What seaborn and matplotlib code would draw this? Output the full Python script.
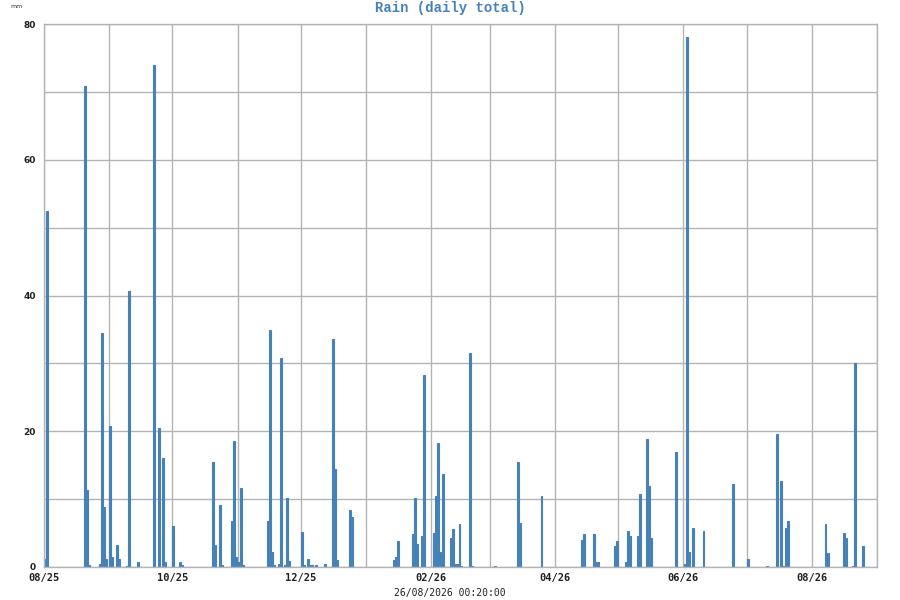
import matplotlib
matplotlib.use("Agg")
import matplotlib.pyplot as plt
import seaborn as sns
import pandas as pd

# daily rain totals (mm), only days with rain
rain_dates = [
    "2025-08-01", "2025-08-02", "2025-08-20", "2025-08-21", "2025-08-22",
    "2025-08-27", "2025-08-28", "2025-08-29", "2025-08-30", "2025-09-01",
    "2025-09-02", "2025-09-04", "2025-09-05", "2025-09-09", "2025-09-10",
    "2025-09-14", "2025-09-22", "2025-09-24", "2025-09-26", "2025-09-27",
    "2025-10-01", "2025-10-04", "2025-10-05", "2025-10-20", "2025-10-21",
    "2025-10-23", "2025-10-24", "2025-10-29", "2025-10-30", "2025-10-31",
    "2025-11-01", "2025-11-02", "2025-11-03", "2025-11-15", "2025-11-16",
    "2025-11-17", "2025-11-18", "2025-11-20", "2025-11-21", "2025-11-23",
    "2025-11-24", "2025-11-25", "2025-12-01", "2025-12-02", "2025-12-04",
    "2025-12-05", "2025-12-06", "2025-12-08", "2025-12-12", "2025-12-16",
    "2025-12-17", "2025-12-18", "2025-12-24", "2025-12-25", "2026-01-14",
    "2026-01-15", "2026-01-16", "2026-01-23", "2026-01-24", "2026-01-25",
    "2026-01-27", "2026-01-28", "2026-02-02", "2026-02-03", "2026-02-04",
    "2026-02-05", "2026-02-06", "2026-02-10", "2026-02-11", "2026-02-12",
    "2026-02-13", "2026-02-14", "2026-02-15", "2026-02-19", "2026-02-20",
    "2026-03-03", "2026-03-14", "2026-03-15", "2026-03-25", "2026-04-13",
    "2026-04-14", "2026-04-19", "2026-04-20", "2026-04-21", "2026-04-29",
    "2026-04-30", "2026-05-04", "2026-05-05", "2026-05-06", "2026-05-10",
    "2026-05-11", "2026-05-14", "2026-05-15", "2026-05-16", "2026-05-28",
    "2026-06-01", "2026-06-02", "2026-06-03", "2026-06-05", "2026-06-10",
    "2026-06-24", "2026-07-01", "2026-07-10", "2026-07-15", "2026-07-17",
    "2026-07-18", "2026-07-19", "2026-07-20", "2026-08-07", "2026-08-08",
    "2026-08-16", "2026-08-17", "2026-08-20", "2026-08-21", "2026-08-25",
]
rain_mm = [
    1.2, 52.5, 70.8, 11.4, 0.25,
    0.4, 34.5, 8.9, 1.2, 20.8,
    1.5, 3.3, 1.2, 0.2, 40.6,
    0.7, 73.9, 20.5, 16.0, 0.7,
    6.1, 0.7, 0.3, 15.5, 3.3,
    9.1, 0.25, 6.8, 18.5, 1.5,
    0.7, 11.7, 0.25, 6.8, 34.9,
    2.2, 0.25, 0.4, 30.8, 0.3,
    10.1, 0.9, 5.1, 0.25, 1.2,
    0.3, 0.25, 0.3, 0.5, 33.6,
    14.5, 1.0, 8.4, 7.3, 1.0,
    1.5, 3.8, 4.8, 10.1, 3.4,
    4.5, 28.3, 5.0, 10.4, 18.3,
    2.2, 13.7, 4.3, 5.6, 0.45,
    0.45, 6.3, 0.2, 31.5, 0.2,
    0.2, 15.5, 6.5, 10.4, 4.0,
    4.8, 4.8, 0.7, 0.7, 3.1,
    3.8, 0.7, 5.3, 4.5, 4.5,
    10.8, 18.8, 11.9, 4.3, 17.0,
    0.45, 78.1, 2.2, 5.8, 5.3,
    12.2, 1.2, 0.2, 19.6, 12.7,
    0.2, 5.8, 6.8, 6.3, 2.0,
    5.0, 4.3, 0.2, 30.0, 3.1,
]
period_start = "2025-08-01"
period_end = "2026-09-01"
stamp = "26/08/2026 00:20:00"

BLUE = "#4682b8"
GRID = "#b4b4b4"

t0 = pd.Timestamp(period_start)
df = pd.DataFrame({"date": pd.to_datetime(rain_dates), "mm": rain_mm})
df["day"] = (df["date"] - t0).dt.days + 0.5  # bar centred in its day

sns.set_style("white")
fig = plt.figure(figsize=(9, 6), dpi=100)
ax = fig.add_axes([44 / 900, 33 / 600, 833 / 900, 543 / 600])

sns.barplot(data=df, x="day", y="mm", native_scale=True, width=0.9,
            color=BLUE, saturation=1, edgecolor=BLUE, linewidth=0.8, ax=ax)

months = pd.date_range(period_start, period_end, freq="MS")
mdays = (months - t0).days
ax.set_xticks(mdays)
ax.set_xticklabels([m.strftime("%m/%y") if i % 2 == 0 else "" for i, m in enumerate(months)],
                   family="DejaVu Sans Mono", fontweight="bold", fontsize=7.5)
ax.set_xlim(0, mdays[-1])
ax.set_ylim(0, 80)
ax.set_yticks(range(0, 81, 20))
ax.set_yticks(range(10, 80, 20), minor=True)
ax.set_yticklabels([str(v) for v in range(0, 81, 20)], family="DejaVu Sans",
                   fontsize=6.5, fontweight="bold")
ax.tick_params(which="both", length=0)
ax.tick_params(axis="x", pad=4.5, colors="#222222")
ax.tick_params(axis="y", pad=6, colors="#222222")
ax.grid(True, which="both", color=GRID, lw=1)
ax.set_axisbelow(True)
for s in ax.spines.values():
    s.set_color(GRID)
    s.set_linewidth(1)
ax.set_xlabel("")
ax.set_ylabel("")

fig.text(0.5, 1 - 8 / 600, "Rain (daily total)", ha="center", va="center",
         family="Liberation Mono", fontweight="bold", fontsize=10, color=BLUE)
fig.text(10 / 900, 1 - 6 / 600, "mm", ha="left", va="center",
         family="DejaVu Sans", fontsize=4.5, color="#333333")
fig.text(0.5, 7 / 600, stamp, ha="center", va="center",
         family="DejaVu Sans Mono", fontsize=7, color="#222222")

fig.savefig("out.png", dpi=100)
